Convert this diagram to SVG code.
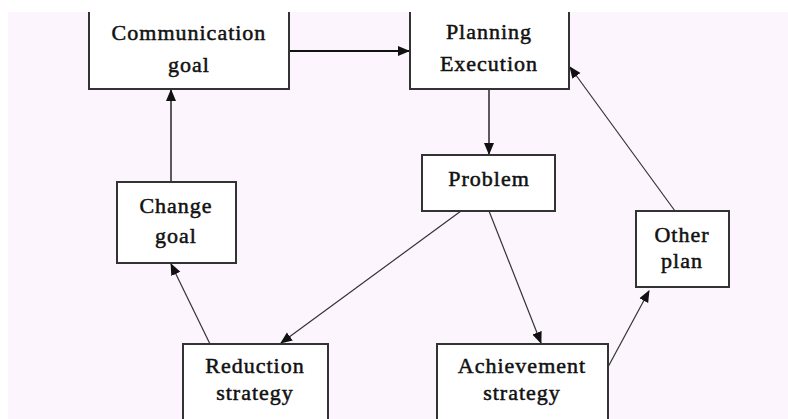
<svg xmlns="http://www.w3.org/2000/svg" width="788" height="419" viewBox="0 0 788 419">
<style>
.box{fill:#ffffff;stroke:#333333;stroke-width:2}
.lbl{font-family:"Liberation Serif","Times New Roman",serif;font-size:22px;font-weight:normal;fill:#111111;stroke:#111111;stroke-width:0.5;text-anchor:middle;letter-spacing:1px}
.edge{stroke:#333333;stroke-width:1.2;fill:none;marker-end:url(#ah)}
</style>
<defs>
<marker id="ah" markerWidth="12" markerHeight="12" refX="11" refY="6" orient="auto" markerUnits="userSpaceOnUse">
<path d="M0,1 L12,6 L0,11 Z" fill="#111111"/>
</marker>
</defs>
<rect x="0" y="0" width="788" height="419" fill="#ffffff"/>
<rect x="8" y="12" width="780" height="407" fill="#fdf5fd"/>
<g id="connectors">
<line class="edge" x1="289" y1="51" x2="409" y2="51" style="stroke:#111111;stroke-width:2"/>
<line class="edge" x1="489" y1="89" x2="489" y2="154" style="stroke-width:1.6"/>
<line class="edge" x1="675" y1="211" x2="570" y2="67"/>
<line class="edge" x1="171" y1="182" x2="171" y2="90" style="stroke-width:1.6"/>
<line class="edge" x1="210" y1="344" x2="171" y2="264"/>
<line class="edge" x1="461" y1="211" x2="281" y2="343"/>
<line class="edge" x1="489" y1="211" x2="541" y2="343"/>
<line class="edge" x1="608" y1="367" x2="649" y2="291"/>
</g>
<g id="node-communication">
<rect class="box" x="89" y="-10" width="200" height="99"/>
<text class="lbl" x="189" y="40">Communication</text>
<text class="lbl" x="189" y="72">goal</text>
</g>
<g id="node-planning">
<rect class="box" x="410" y="-10" width="159" height="99"/>
<text class="lbl" x="489" y="39">Planning</text>
<text class="lbl" x="489" y="71">Execution</text>
</g>
<g id="node-problem">
<rect class="box" x="422" y="155" width="133" height="56"/>
<text class="lbl" x="489" y="186">Problem</text>
</g>
<g id="node-change">
<rect class="box" x="117" y="182" width="119" height="81"/>
<text class="lbl" x="176" y="213">Change</text>
<text class="lbl" x="176" y="243">goal</text>
</g>
<g id="node-other">
<rect class="box" x="636" y="211" width="93" height="76"/>
<text class="lbl" x="682" y="242">Other</text>
<text class="lbl" x="682" y="268">plan</text>
</g>
<g id="node-reduction">
<rect class="box" x="183" y="344" width="145" height="90"/>
<text class="lbl" x="255" y="373">Reduction</text>
<text class="lbl" x="255" y="400">strategy</text>
</g>
<g id="node-achievement">
<rect class="box" x="437" y="344" width="171" height="90"/>
<text class="lbl" x="522" y="373">Achievement</text>
<text class="lbl" x="522" y="400">strategy</text>
</g>
<rect x="0" y="0" width="788" height="12" fill="#ffffff"/>
</svg>
